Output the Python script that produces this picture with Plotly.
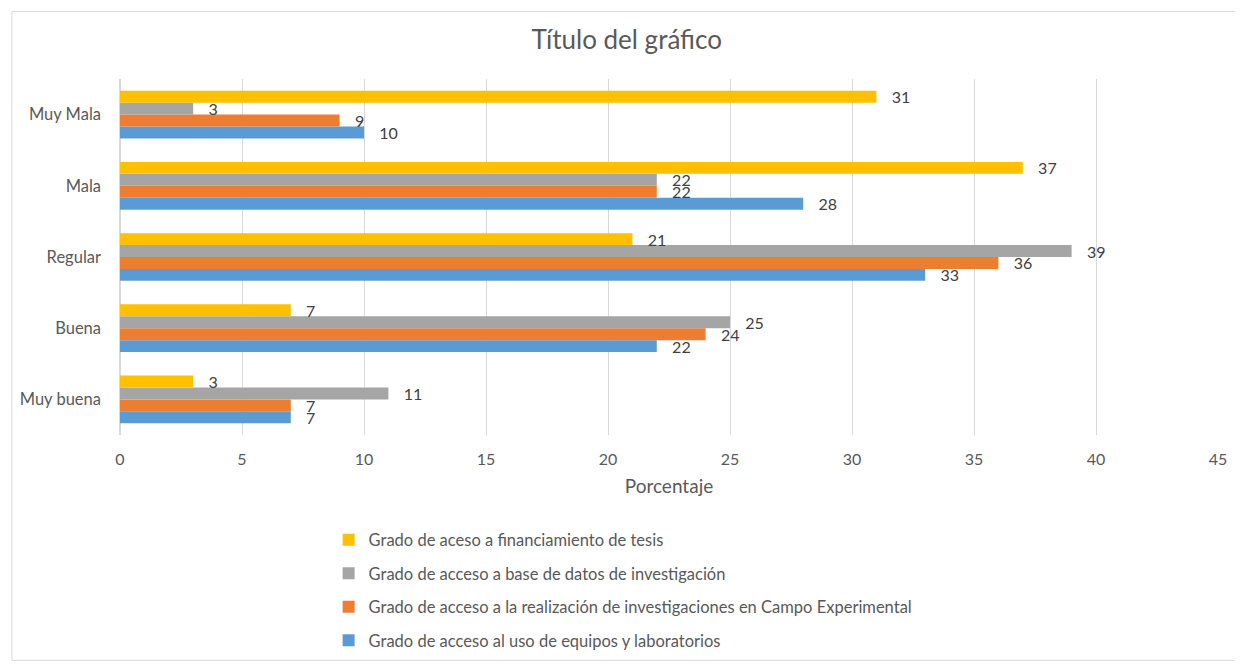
import plotly.graph_objects as go

# categories listed top to bottom as they appear in the chart
categories = ["Muy Mala", "Mala", "Regular", "Buena", "Muy buena"]

series_names = [
    "Grado de acceso al uso de equipos y laboratorios",
    "Grado de acceso a la realización de investigaciones en Campo Experimental",
    "Grado de acceso a base de datos de investigación",
    "Grado de aceso a financiamiento de tesis",
]
equipos = [10, 28, 33, 22, 7]
campo = [9, 22, 36, 24, 7]
base_datos = [3, 22, 39, 25, 11]
financiamiento = [31, 37, 21, 7, 3]

x_ticks = [0, 5, 10, 15, 20, 25, 30, 35, 40, 45]

colors = ["#5B9BD5", "#ED7D31", "#A5A5A5", "#FFC000"]
text_color = "#595959"
font_family = "Lato, 'Open Sans', sans-serif"

fig = go.Figure()
for i, vals in enumerate([equipos, campo, base_datos, financiamiento]):
    fig.add_trace(go.Bar(
        x=vals, y=categories, orientation="h", name=series_names[i],
        marker=dict(color=colors[i], line=dict(width=0)),
        text=vals, texttemplate="   %{x}", textposition="outside",
        cliponaxis=False, constraintext="none",
        textfont=dict(size=16, color="#404040", family=font_family),
        legendgroup=str(i), legendrank=4 - i,
    ))

fig.update_layout(
    width=1235, height=661,
    paper_bgcolor="white", plot_bgcolor="white",
    barmode="group", bargap=0.33, bargroupgap=0,
    margin=dict(l=109, r=25, t=71, b=229),
    font=dict(family=font_family, color=text_color, size=16),
    title=dict(text="Título del gráfico", x=0.501, xref="container", xanchor="center",
               y=0.951, yref="container", yanchor="middle",
               font=dict(size=26, color=text_color, family=font_family)),
    legend=dict(traceorder="grouped", orientation="v", x=0.19, xanchor="left",
                y=-0.246, yanchor="top", tracegroupgap=9,
                font=dict(size=16.5, color=text_color, family=font_family),
                itemwidth=30),
    showlegend=True,
)
fig.update_xaxes(range=[0, 45], tickvals=x_ticks, showgrid=True, gridcolor="#D9D9D9",
                 gridwidth=1, zeroline=True, zerolinecolor="#D9D9D9", showline=False,
                 ticks="", ticklabelstandoff=13, tickfont=dict(size=16, color=text_color),
                 title=dict(text="Porcentaje", font=dict(size=19, color=text_color), standoff=12))
fig.update_yaxes(categoryorder="array", categoryarray=categories[::-1], showgrid=False,
                 zeroline=False, showline=False, ticks="", ticklabelstandoff=18,
                 tickfont=dict(size=16.5, color=text_color))

# light chart border, as in the original
fig.add_shape(type="rect", xref="paper", yref="paper",
              x0=-0.0985, x1=1.021, y0=-0.633, y1=1.19,
              line=dict(color="#D9D9D9", width=1), fillcolor="rgba(0,0,0,0)", layer="below")

fig.write_html("out.html")
